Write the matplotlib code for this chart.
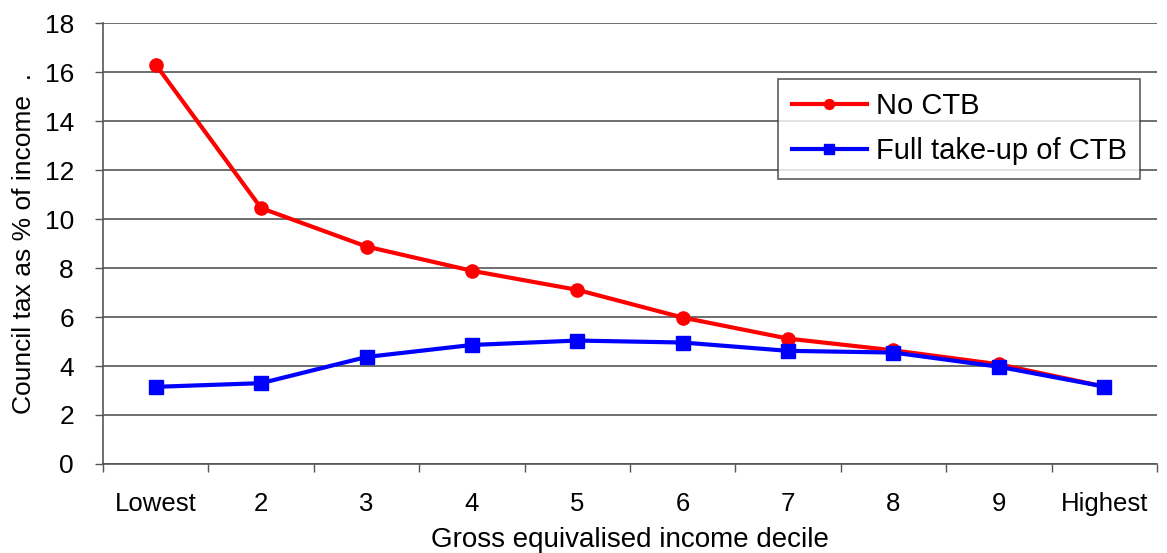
import matplotlib.pyplot as plt
import numpy as np

deciles = ["Lowest", "2", "3", "4", "5", "6", "7", "8", "9", "Highest"]
no_ctb = [16.31, 10.45, 8.88, 7.89, 7.11, 5.98, 5.12, 4.64, 4.07, 3.16]
full_ctb = [3.15, 3.30, 4.37, 4.86, 5.04, 4.96, 4.62, 4.55, 3.97, 3.16]


def main():
    plt.rcParams['font.family'] = ['Liberation Sans', 'DejaVu Sans']

    fig = plt.figure(figsize=(11.67, 5.53), dpi=100)
    ax = fig.add_axes([0.0883, 0.161, 0.9031, 0.797])

    x = np.arange(len(deciles))
    ax.plot(x, no_ctb, color="#ff0000", linewidth=3, marker="o",
            markersize=9.5, label="No CTB", zorder=3)
    ax.plot(x, full_ctb, color="#0000ff", linewidth=3, marker="s",
            markersize=9.5, label="Full take-up of CTB", zorder=4)

    ax.set_xlim(-0.5, len(deciles) - 0.5)
    ax.set_ylim(0, 18)
    ax.set_yticks(range(0, 19, 2))
    ax.set_xticks(x)
    ax.set_xticklabels(deciles)
    ax.set_xticks(np.arange(-0.5, len(deciles), 1), minor=True)
    ax.tick_params(axis="x", which="major", length=0, pad=20, labelsize=18.5)
    ax.tick_params(axis="x", which="minor", length=6, width=1, color="#555555")
    ax.tick_params(axis="y", length=6, width=1, color="#555555", labelsize=19, pad=15)

    ax.grid(axis="y", color="#555555", linewidth=1.2)
    ax.set_axisbelow(True)
    for side in ("top", "right"):
        ax.spines[side].set_visible(False)
    for side in ("left", "bottom"):
        ax.spines[side].set_color("#555555")
        ax.spines[side].set_linewidth(1.2)

    ax.set_xlabel("Gross equivalised income decile", fontsize=20, labelpad=8)
    ax.set_ylabel("Council tax as % of income  .", fontsize=19, labelpad=6)

    leg = ax.legend(loc="upper right", bbox_to_anchor=(0.984, 0.874),
                    fontsize=21, frameon=True, fancybox=False,
                    borderpad=0.45, handlelength=2.6, labelspacing=0.6,
                    handletextpad=0.3, markerscale=0.75, borderaxespad=0)
    leg.get_frame().set_edgecolor("#333333")
    leg.get_frame().set_linewidth(1.2)

    fig.savefig("out.png", dpi=100, facecolor="white")


if __name__ == "__main__":
    main()
